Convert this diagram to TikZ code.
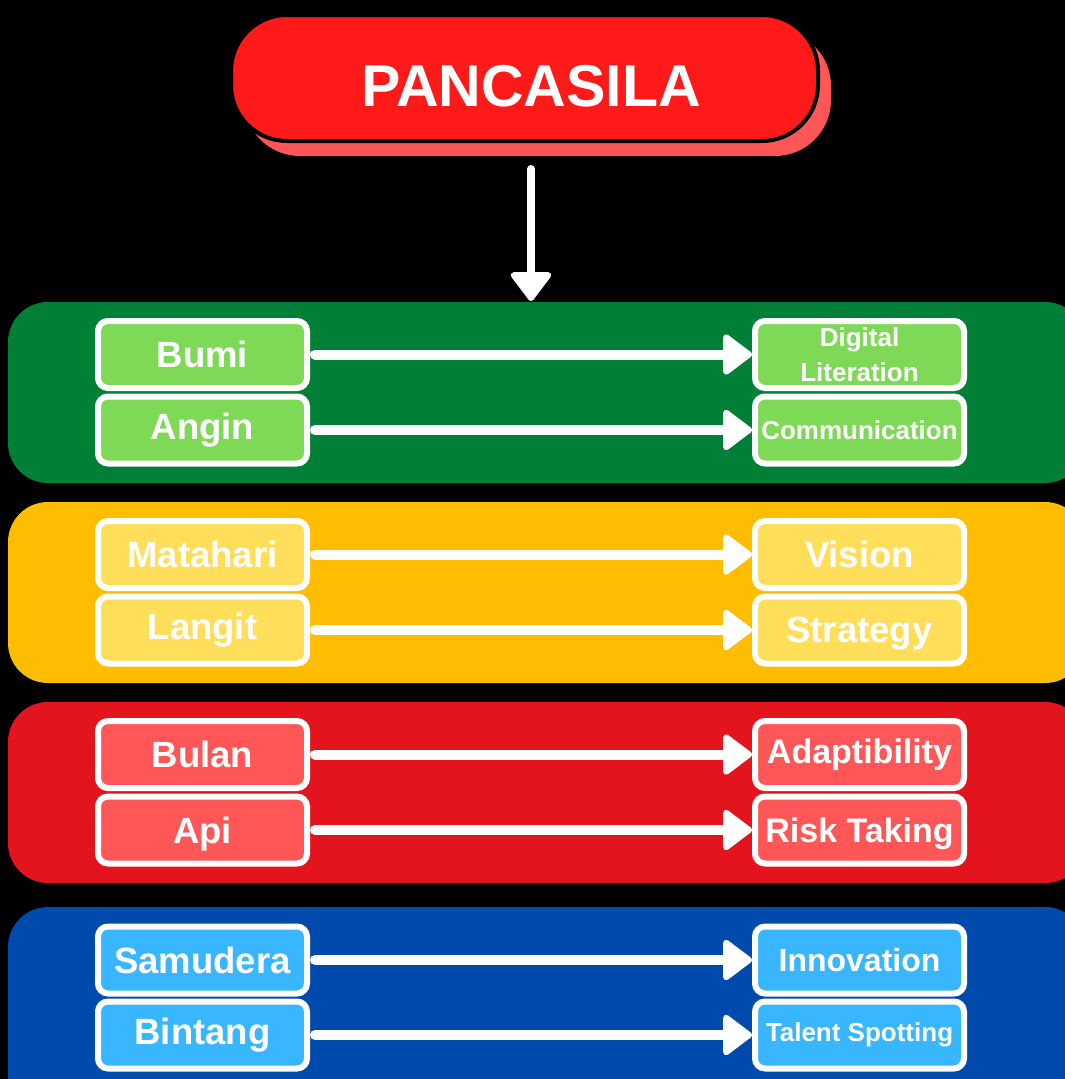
\documentclass[tikz,border=0pt]{standalone}
\usepackage{fontspec}
\setmainfont{Liberation Sans}
\usetikzlibrary{arrows.meta,shadows}

\definecolor{titlered}{RGB}{255,26,26}
\definecolor{titleshade}{RGB}{255,87,87}
\definecolor{greenband}{RGB}{0,128,55}
\definecolor{greenbox}{RGB}{126,217,87}
\definecolor{yellowband}{RGB}{255,189,0}
\definecolor{yellowbox}{RGB}{255,222,89}
\definecolor{redband}{RGB}{227,20,29}
\definecolor{redbox}{RGB}{255,87,87}
\definecolor{blueband}{RGB}{0,74,173}
\definecolor{bluebox}{RGB}{56,182,255}

\begin{document}
\begin{tikzpicture}[
    x=1pt, y=-1pt,
    title/.style={draw=black, line width=4pt, fill=titlered, rounded corners=56pt,
      minimum width=587pt, minimum height=126pt, text=white, text height=58pt,
      font=\bfseries\fontsize{59}{66}\selectfont,
      drop shadow={shadow xshift=13pt, shadow yshift=-15pt, fill=titleshade, opacity=1}},
    item/.style={draw=white, line width=6pt, rounded corners=10pt, text=white,
      align=center, minimum width=209pt, minimum height=67pt, inner sep=0pt},
    big/.style={font=\bfseries\fontsize{36.5}{40}\selectfont},
    mid/.style={font=\bfseries\fontsize{34}{38}\selectfont},
    small/.style={font=\bfseries\fontsize{26}{35}\selectfont},
    link/.style={white, line width=10pt, line cap=round, shorten <=5pt,
      -{Triangle[width=45pt, length=31pt, line width=6pt, round]}}
  ]
  \fill[black] (0,0) rectangle (1065,1079);
  \useasboundingbox (0,0) rectangle (1065,1079);

  % coloured bands
  \foreach \col/\top/\bot in {greenband/302/483, yellowband/502/683,
                              redband/702/883, blueband/907/1120}
    \fill[\col, rounded corners=40pt] (8,\top) rectangle (1085,\bot);

  \node[title] (title) at (524.5,78) {\hspace*{13pt}PANCASILA};
  \coordinate (drop) at (531,301);
  \draw[link, line width=8pt, shorten <=26pt] (title.south -| drop) -- (drop);

  % left column
  \node[item, big, fill=greenbox] (bumi) at (202.5,354.5) {Bumi};
  \node[item, big, fill=greenbox] (angin) at (202.5,430) {Angin};
  \node[item, big, fill=yellowbox] (matahari) at (202.5,554.5) {Matahari};
  \node[item, big, fill=yellowbox] (langit) at (202.5,630) {Langit};
  \node[item, big, fill=redbox] (bulan) at (202.5,754.5) {Bulan};
  \node[item, big, fill=redbox, text depth=0pt] (api) at (202.5,830) {Api};
  \node[item, big, fill=bluebox] (samudera) at (202.5,960) {Samudera};
  \node[item, big, fill=bluebox] (bintang) at (202.5,1035) {Bintang};

  % right column
  \node[item, small, fill=greenbox] (digital) at (859.5,354.5) {Digital\\Literation};
  \node[item, small, fill=greenbox] (comm) at (859.5,430) {Communication};
  \node[item, big, fill=yellowbox] (vision) at (859.5,554.5) {Vision};
  \node[item, big, fill=yellowbox, text depth=0pt] (strategy) at (859.5,630) {Strategy};
  \node[item, mid, fill=redbox] (adapt) at (859.5,754.5) {Adaptibility};
  \node[item, mid, fill=redbox, text depth=0pt] (risk) at (859.5,830) {Risk Taking};
  \node[item, font=\bfseries\fontsize{32}{36}\selectfont, fill=bluebox] (innov) at (859.5,960) {Innovation};
  \node[item, small, fill=bluebox] (talent) at (859.5,1035) {Talent Spotting};

  \foreach \a/\b in {bumi/digital, angin/comm, matahari/vision, langit/strategy,
                     bulan/adapt, api/risk, samudera/innov, bintang/talent}
    \draw[link] (\a) -- (\b);
\end{tikzpicture}
\end{document}
